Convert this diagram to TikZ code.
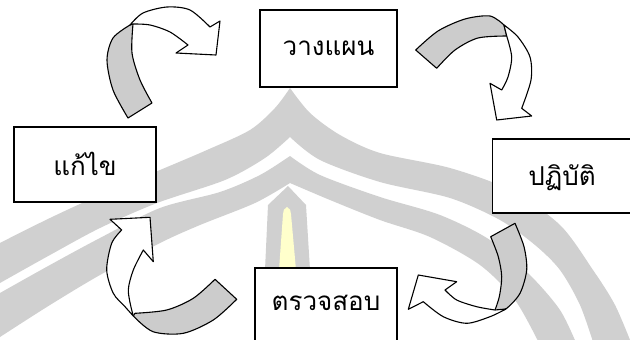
\documentclass[tikz,border=0pt]{standalone}
\usepackage{fontspec}
\newfontfamily\thaifont[Script=Thai]{Loma}
\definecolor{wmgray}{RGB}{208,208,208}
\definecolor{argray}{RGB}{204,204,204}
\definecolor{candle}{RGB}{255,255,204}
\begin{document}
\begin{tikzpicture}[x=1pt,y=-1pt,
  box/.style={draw, line width=1.3pt, fill=white, inner sep=0pt, text depth=0pt,
    font=\thaifont\fontsize{26}{30}\selectfont},
  arrowback/.style={fill=argray, draw=black, line width=1.1pt, line join=round},
  arrowfront/.style={fill=white, draw=black, line width=1.1pt, line join=round},
  wm/.style={fill=wmgray, draw=none}]
\useasboundingbox (0,0) rectangle (630,340);
\clip (0,0) rectangle (630,340);
\fill[white] (0,0) rectangle (630,340);
% watermark: outer band
\path[wm] plot[smooth] coordinates {(-15,252) (0,243) (50,218) (100,195) (160,170) (207,150) (250,130) (275,108) (290,88)}
 -- plot[smooth] coordinates {(290,88) (310,113) (340,135) (380,153) (450,168) (510,190) (560,225) (593,270) (615,305) (632,345)}
 -- plot[smooth] coordinates {(594,345) (580,305) (560,270) (535,245) (500,220) (450,198) (380,182) (320,160) (290,137)}
 -- plot[smooth] coordinates {(290,137) (265,158) (225,180) (157,203) (100,228) (50,255) (0,283) (-15,292)}
 -- cycle;
% watermark: inner band
\path[wm] plot[smooth] coordinates {(-15,302) (0,293) (50,265) (100,238) (160,208) (220,192) (260,175) (290,156)}
 -- plot[smooth] coordinates {(290,156) (320,175) (380,197) (440,215) (490,240) (530,275) (560,310) (577,345)}
 -- plot[smooth] coordinates {(540,345) (515,300) (480,265) (430,237) (380,220) (330,200) (290,183)}
 -- plot[smooth] coordinates {(290,183) (255,203) (200,225) (160,243) (100,275) (50,305) (0,337) (-15,347)}
 -- cycle;
% watermark: candle
\path[wm] (288,186) -- (306,205) -- (310,270) -- (265,270) -- (268,205) -- cycle;
\fill[candle] (287,207) .. controls (284,208) and (283,211) .. (283,214) -- (279,270) -- (296,270) -- (291,214) .. controls (291,211) and (290,208) .. (287,207) -- cycle;
% boxes
\node[box, minimum width=137pt, minimum height=77pt, text height=13pt] (plan) at (328.5,48.5) {วางแผน};
\node[box, minimum width=139pt, minimum height=74pt, text height=18pt] (act) at (562,176) {ปฏิบัติ};
\node[box, minimum width=142pt, minimum height=77pt, text height=7pt] (check) at (326,306.5) {ตรวจสอบ};
\node[box, minimum width=142pt, minimum height=75pt, text height=21pt] (fix) at (85,164.5) {แก้ไข};
% arrow 1: fix -> plan
\path[arrowback] plot[smooth] coordinates {(128,118) (113,90) (107,60) (113,38) (130,25)}
 -- plot[smooth] coordinates {(133,24) (132,53) (140,80) (152,103)} -- cycle;
\path[arrowfront] plot[smooth] coordinates {(130,25) (143,13) (167,7) (190,10) (210,27)}
 -- (220,21) -- (216,55) -- (176,53) -- (188,45)
 -- plot[smooth] coordinates {(188,45) (170,32) (150,25) (133,24)} -- cycle;
% arrow 2: plan -> act
\path[arrowback] plot[smooth] coordinates {(415.7,50) (438,31) (465,19) (490,16) (504,25)}
 -- plot[smooth] coordinates {(506.7,36) (478,38) (455,50) (436.7,68.3)} -- cycle;
\path[arrowfront] plot[smooth] coordinates {(504,25) (518,37) (530,57) (531,80) (521.7,108.3)}
 -- (531.7,116) -- (496.7,120) -- (490,83.3) -- (501.7,90)
 -- plot[smooth] coordinates {(501.7,90) (508,77) (511.7,57) (506.7,36)} -- cycle;
% arrow 3: check -> fix
\path[arrowback] plot[smooth] coordinates {(215,279.3) (193.3,298.3) (166.7,310) (135,313.3)}
 -- plot[smooth] coordinates {(133.3,316) (153,331.7) (183.3,333.3) (213.3,320) (236.7,299.3)} -- cycle;
\path[arrowfront] plot[smooth] coordinates {(133.3,316) (125,306.7) (113.3,293.3) (106.7,270) (111.7,243.3) (121.7,230)}
 -- (110,219.3) -- (150,217.3) -- (153.3,261.7) -- (143.3,250)
 -- plot[smooth] coordinates {(143.3,250) (133.3,270) (128.3,290) (131.7,310)} -- cycle;
% arrow 4: act -> check
\path[arrowback] plot[smooth] coordinates {(490.7,236.7) (498.3,256.7) (501.7,276.7) (499.3,296.7) (495,310)}
 -- plot[smooth] coordinates {(497,311) (506.7,308.3) (520,293.3) (526.7,270) (524,246.7) (515,223.3)} -- cycle;
\path[arrowfront] plot[smooth] coordinates {(506,309) (490,316.7) (466.7,323.3) (443.3,316.7) (423.3,301.7)}
 -- (408.3,309.3) -- (418.3,275) -- (456.7,281.7) -- (445,290)
 -- plot[smooth] coordinates {(445,290) (456.7,300) (476.7,306.7) (495,310)} -- cycle;
\end{tikzpicture}
\end{document}
